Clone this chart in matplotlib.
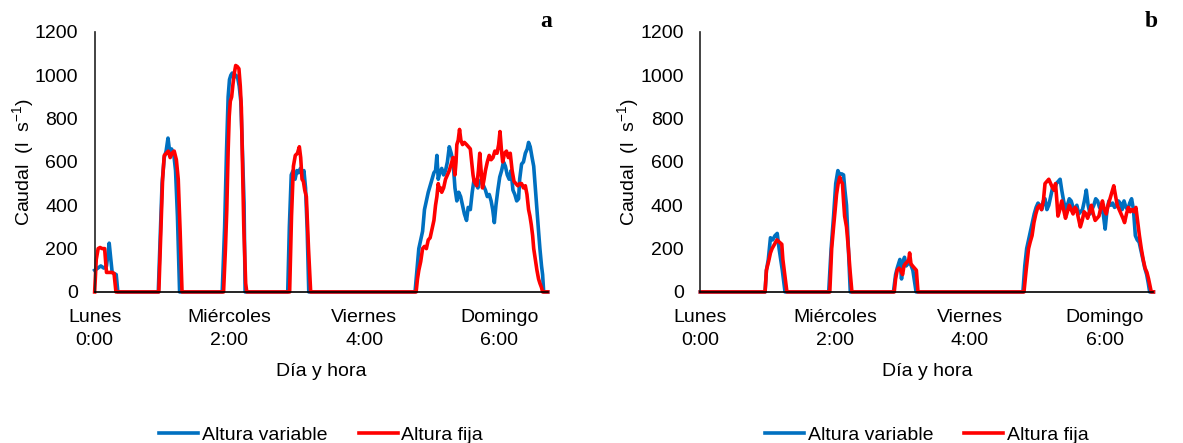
import matplotlib
matplotlib.use('Agg')
import matplotlib.pyplot as plt

plt.rcParams['font.family'] = ['Liberation Sans', 'DejaVu Sans']
plt.rcParams['mathtext.default'] = 'regular'

# hours since Monday 0:00, flow in l/s
a_var_h = [0, 1.2, 2.3, 3.4, 4.4, 5.4, 6.0, 6.5, 7.2, 8.0, 8.6,
           23.6, 24.3, 25.0, 25.8, 26.5, 27.2, 27.8, 28.5, 29.3, 30.0, 30.7, 31.5,
           47.3, 48.2, 48.9, 49.5, 50.0, 50.5, 51.0, 51.7, 52.4, 53.0, 53.6, 54.2, 54.8, 55.4, 55.8,
           71.6, 72.2, 72.9, 73.6, 74.3, 75.0, 75.6, 76.3, 77.0, 77.6, 78.2, 78.8, 79.4,
           118.8, 119.5, 120.2, 120.9, 121.6, 122.3, 123.0, 123.7, 124.4, 125.1, 125.8, 126.4,
           126.9, 127.4, 128.0, 128.7, 129.4, 130.1, 130.8, 131.5, 132.2, 132.9, 133.6, 134.3,
           135.0, 135.7, 136.4, 137.1, 137.9, 138.5, 139.3, 140.0, 140.7, 141.4, 142.1, 142.8,
           143.5, 144.2, 144.9, 145.6, 146.3, 147.0, 147.6, 148.2, 148.8, 149.5, 150.2, 150.9,
           151.6, 152.3, 153.0, 153.7, 154.4, 155.1, 155.8, 156.5, 157.2, 157.6, 158.3, 159.0,
           159.7, 160.4, 160.9, 161.5, 162.2, 162.8, 163.4, 164.0, 164.6, 165.1, 165.7, 166.1,
           166.5, 168]
a_var_q = [100, 110, 120, 110, 120, 225, 150, 90, 85, 80, 0,
           0, 250, 500, 620, 650, 710, 650, 660, 640, 560, 350, 0,
           0, 300, 650, 900, 980, 1000, 1010, 990, 1000, 990, 950, 880, 650, 410, 0,
           0, 300, 540, 560, 520, 560, 550, 570, 540, 560, 480, 290, 0,
           0, 100, 200, 240, 280, 380, 420, 460, 490, 520, 550, 560,
           630, 520, 550, 570, 540, 560, 600, 670, 640, 600, 480, 420,
           460, 440, 400, 360, 330, 390, 380, 460, 520, 500, 480, 510,
           520, 490, 470, 440, 450, 420, 380, 320, 400, 470, 530, 560,
           600, 580, 540, 520, 560, 470, 450, 420, 430, 520, 590, 600,
           640, 660, 690, 670, 620, 580, 480, 380, 280, 200, 120, 80,
           0, 0]

a_fix_h = [0, 0.6, 1.3, 2.0, 2.8, 3.7, 4.4, 5.5, 6.5, 7.2, 7.9,
           23.8, 24.6, 25.2, 25.8, 26.6, 27.3, 28.0, 28.7, 29.5, 30.3, 31.0, 31.7, 32.4,
           47.8, 48.5, 49.0, 49.5, 49.9, 50.3, 50.8, 51.3, 51.8, 52.3, 52.9, 53.5, 54.0, 54.4,
           54.8, 55.3, 56.0, 56.4,
           72.3, 73.0, 73.7, 74.4, 75.2, 75.9, 76.4, 76.9, 77.4, 77.9, 78.5, 79.3, 80.1,
           119.2, 119.7, 120.2, 120.9, 121.6, 122.3, 123.0, 123.7, 124.4, 125.1, 125.8, 126.4,
           126.9, 127.4, 127.9, 128.3, 128.7, 129.4, 130.1, 130.8, 131.5, 132.2, 132.9, 133.3,
           133.6, 134.0, 134.3, 134.8, 135.3, 135.8, 136.4, 137.1, 137.9, 138.6, 139.3, 139.8,
           140.3, 140.7, 141.2, 141.7, 142.3, 142.8, 143.3, 143.8, 144.4, 144.9, 145.6, 146.3,
           147.0, 147.7, 148.4, 149.2, 149.8, 150.3, 150.8, 151.3, 152.0, 152.7, 153.4, 154.1,
           154.8, 155.5, 156.2, 156.9, 157.6, 158.3, 159.0, 159.7, 160.3, 160.9, 161.4, 161.9,
           162.4, 162.8, 163.4, 164.0, 164.6, 165.1, 165.7, 166.1, 168]
a_fix_q = [0, 150, 200, 205, 200, 200, 90, 90, 90, 85, 0,
           0, 300, 520, 630, 640, 650, 620, 640, 650, 610, 520, 280, 0,
           0, 200, 380, 650, 810, 880, 900, 960, 1010, 1045, 1040, 1030, 950, 850,
           600, 300, 40, 0,
           0, 350, 580, 630, 640, 670, 620, 520, 510, 470, 440, 200, 0,
           0, 60, 100, 140, 200, 210, 200, 240, 250, 290, 330, 400,
           440, 500, 470, 480, 460, 480, 520, 540, 560, 590, 620, 580,
           540, 600, 680, 700, 750, 700, 680, 690, 680, 670, 660, 600,
           540, 510, 500, 490, 560, 640, 560, 480, 520, 560, 600, 630,
           610, 620, 650, 640, 680, 740, 660, 600, 640, 650, 620, 640,
           560, 510, 500, 490, 500, 500, 480, 490, 450, 380, 350, 310,
           260, 200, 150, 100, 60, 40, 20, 0, 0]

b_var_h = [0, 24.0, 24.5, 25.2, 26.0, 26.8, 27.7, 28.5, 29.2, 29.8, 30.4, 31.4,
           47.6, 48.5, 49.4, 50.2, 51.0, 51.7, 52.4, 53.1, 53.6, 54.2, 54.9, 55.6,
           71.6, 72.4, 73.0, 73.5, 74.0, 74.6, 75.2, 75.7, 76.3, 77.0, 77.6, 78.2, 78.8, 80.0,
           119.6, 120.3, 121.0, 121.7, 122.4, 123.1, 123.8, 124.5, 125.2, 125.9, 126.6, 127.2,
           127.8, 128.5, 129.2, 129.9, 130.6, 131.3, 132.0, 132.7, 133.4, 134.0, 134.7, 135.4,
           136.1, 136.8, 137.5, 138.2, 138.9, 139.6, 140.3, 141.0, 141.7, 142.4, 143.1, 143.8,
           144.5, 145.2, 145.9, 146.6, 147.3, 148.0, 148.7, 149.4, 150.1, 150.8, 151.5, 152.2,
           152.9, 153.6, 154.4, 155.0, 155.7, 156.4, 157.1, 157.8, 158.5, 159.2, 159.9, 160.6,
           161.3, 162.0, 162.7, 163.4, 164.1, 164.8, 165.5, 166.1, 166.6, 168]
b_var_q = [0, 0, 100, 150, 250, 240, 260, 270, 200, 150, 100, 0,
           0, 200, 350, 500, 560, 540, 545, 540, 470, 400, 200, 0,
           0, 80, 110, 130, 150, 60, 140, 160, 120, 130, 140, 120, 100, 0,
           0, 120, 200, 240, 280, 320, 360, 390, 410, 400, 380, 420,
           430, 380, 400, 440, 480, 470, 500, 510, 520, 470, 420, 380,
           400, 430, 420, 390, 380, 400, 360, 370, 380, 420, 470, 400,
           360, 380, 400, 430, 420, 390, 380, 360, 290, 380, 420, 400,
           410, 390, 400, 420, 410, 380, 420, 390, 380, 410, 430, 380,
           260, 240, 230, 190, 150, 110, 80, 40, 0, 0]

b_fix_h = [0, 24.0, 24.5, 25.3, 26.0, 26.6, 27.5, 28.4, 29.3, 30.2, 30.6, 31.1, 32.1,
           48.0, 48.7, 49.4, 50.0, 50.5, 51.1, 51.7, 52.2, 52.7, 53.1, 53.5, 54.2, 54.9, 55.5, 56.2,
           71.9, 72.4, 73.0, 73.7, 74.3, 75.0, 75.5, 76.0, 76.8, 77.3, 77.6, 78.1, 78.7, 79.4,
           80.1, 80.7,
           120.0, 120.8, 121.7, 122.3, 123.0, 123.7, 124.4, 125.1, 125.8, 126.5, 127.2, 127.8,
           128.5, 129.2, 129.9, 130.6, 131.2, 131.7, 132.2, 132.6, 133.3, 134.0, 134.7, 135.4,
           136.1, 136.8, 137.5, 138.2, 138.9, 139.5, 140.2, 140.9, 141.6, 142.3, 143.0, 143.6,
           144.3, 145.0, 145.7, 146.4, 147.1, 147.8, 148.5, 149.1, 149.8, 150.5, 151.2, 151.9,
           152.6, 153.3, 154.0, 154.6, 155.3, 156.0, 156.7, 157.3, 158.0, 158.7, 159.4, 160.1,
           160.8, 161.5, 162.1, 162.8, 163.5, 164.2, 164.9, 165.6, 166.2, 166.7, 167.2, 168]
b_fix_q = [0, 0, 100, 140, 180, 200, 220, 240, 230, 220, 150, 100, 0,
           0, 200, 300, 380, 450, 500, 530, 510, 500, 420, 350, 300, 200, 100, 0,
           0, 60, 100, 110, 100, 80, 120, 130, 140, 150, 180, 130, 120, 110,
           100, 0,
           0, 100, 200, 230, 260, 320, 360, 390, 400, 380, 420, 500,
           510, 520, 500, 480, 470, 500, 420, 350, 380, 420, 380, 340,
           370, 400, 380, 360, 390, 380, 340, 300, 330, 370, 360, 340,
           370, 400, 360, 330, 340, 350, 390, 420, 380, 360, 400, 430,
           460, 490, 440, 400, 380, 360, 340, 320, 360, 390, 370, 380,
           370, 390, 330, 260, 200, 150, 110, 90, 60, 30, 0, 0]

tick_pos = [0, 50, 100, 150]
tick_labels = ['Lunes\n0:00', 'Miércoles\n2:00', 'Viernes\n4:00', 'Domingo\n6:00']
blue = '#0070C0'
red = '#FF0000'

fig = plt.figure(figsize=(11.83, 4.43), dpi=100)


def panel(left, var_h, var_q, fix_h, fix_q, letter):
    ax = fig.add_axes([left, 0.341, 0.383, 0.587])
    ax.plot(var_h, var_q, color=blue, lw=2.6, label='Altura variable', clip_on=False)
    ax.plot(fix_h, fix_q, color=red, lw=2.6, label='Altura fija', clip_on=False)
    ax.set_xlim(0, 168)
    ax.set_ylim(0, 1200)
    ax.set_yticks(range(0, 1201, 200))
    ax.set_xticks(tick_pos)
    ax.set_xticklabels(tick_labels, linespacing=1.5)
    ax.tick_params(axis='both', length=0, labelsize=14)
    ax.tick_params(axis='y', pad=12)
    ax.tick_params(axis='x', pad=12)
    for s in ['top', 'right']:
        ax.spines[s].set_visible(False)
    ax.spines['left'].set_color('#222222')
    ax.spines['bottom'].set_color('black')
    ax.spines['left'].set_linewidth(1.2)
    ax.spines['bottom'].set_linewidth(1.2)
    ax.set_ylabel('Caudal  (l  s$^{-1}$)', fontsize=14)
    ax.yaxis.set_label_coords(-0.13, 0.5)
    ax.set_xlabel('Día y hora', fontsize=14, labelpad=10)
    ax.text(1.01, 1.0, letter, transform=ax.transAxes, ha='right', va='bottom',
            fontsize=17, fontweight='bold', family='Liberation Serif')
    ax.legend(loc='upper center', bbox_to_anchor=(0.5, -0.45), ncol=2, frameon=False,
              fontsize=14, handlelength=2.0, handletextpad=0.2, columnspacing=1.6)
    return ax


panel(0.080, a_var_h, a_var_q, a_fix_h, a_fix_q, 'a')
panel(0.592, b_var_h, b_var_q, b_fix_h, b_fix_q, 'b')

fig.savefig('out.png', dpi=100)
